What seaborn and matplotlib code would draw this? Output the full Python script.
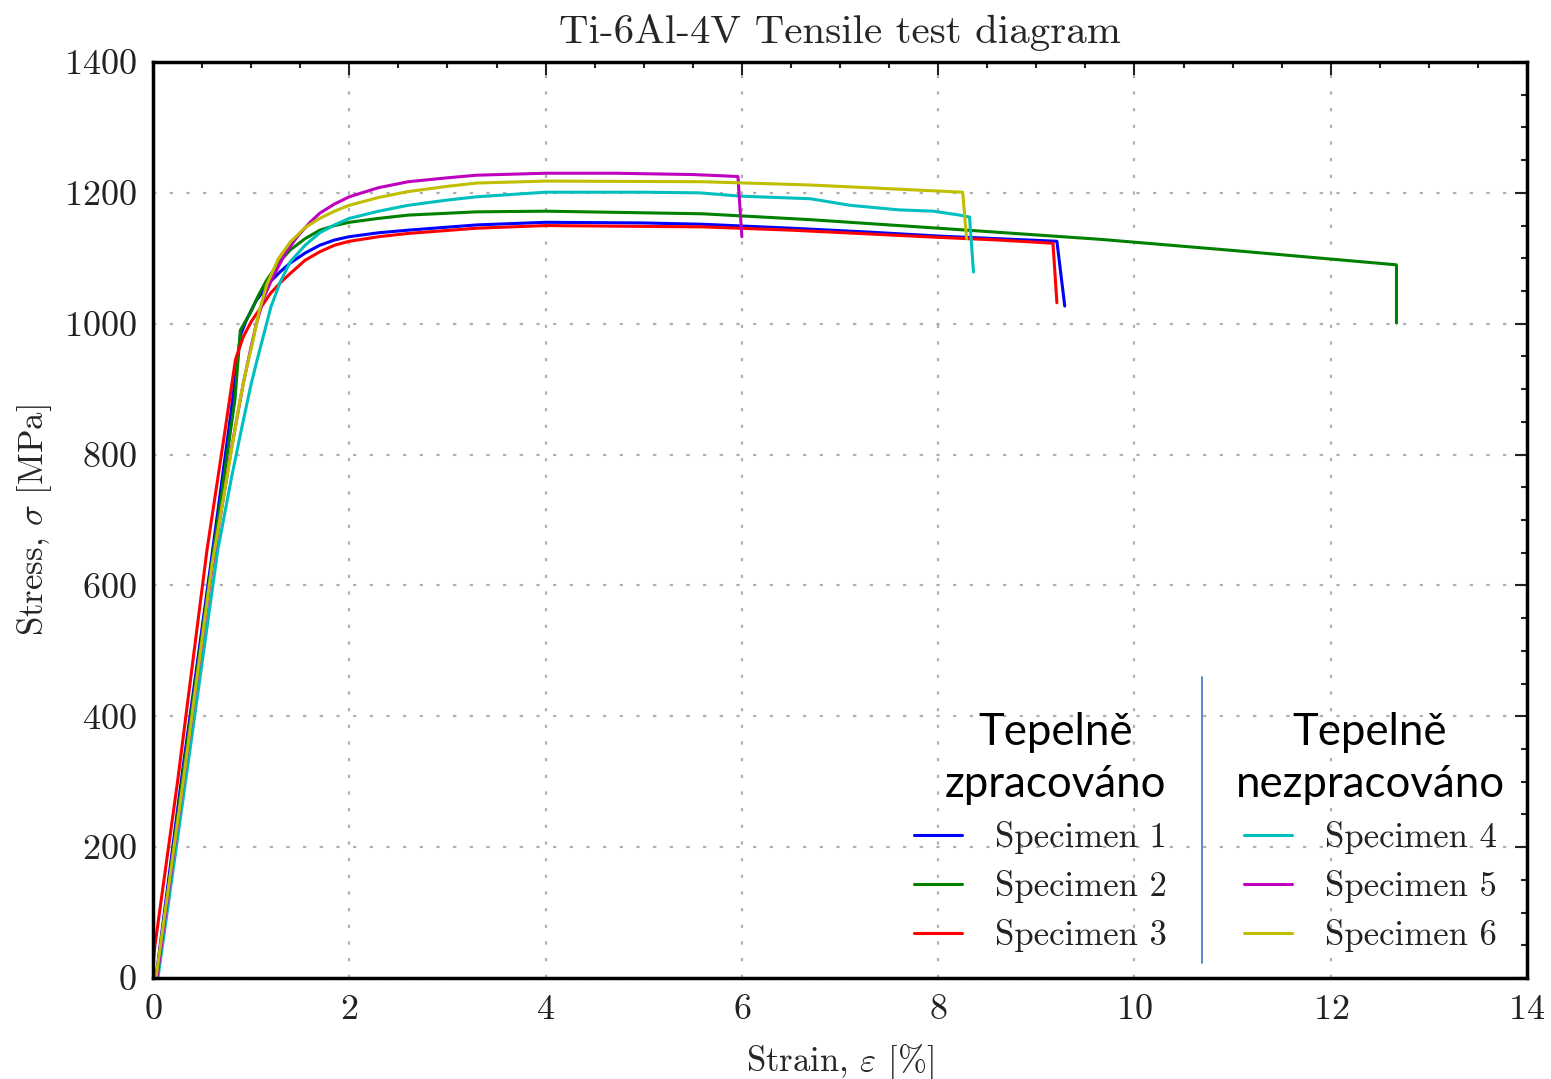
import numpy as np
import pandas as pd
import matplotlib
matplotlib.use("Agg")
import matplotlib.pyplot as plt
import seaborn as sns
from matplotlib.lines import Line2D
from matplotlib.ticker import MultipleLocator

# ---------------- data ----------------
s1_strain = [0.03, 0.30, 0.60, 0.80, 0.89, 0.95, 1.05, 1.20, 1.30, 1.40, 1.55, 1.70, 1.85, 2.00, 2.30, 2.60, 3.30, 4.00, 5.00, 5.60, 6.50, 7.30, 8.00, 8.60, 9.21, 9.29]
s1_stress = [0, 315, 645, 870, 982, 1005, 1035, 1065, 1080, 1093, 1108, 1120, 1128, 1133, 1139, 1143, 1151, 1155, 1154, 1152, 1146, 1140, 1134, 1130, 1126, 1027]

s2_strain = [0.04, 0.30, 0.60, 0.835, 0.89, 0.99, 1.08, 1.16, 1.28, 1.40, 1.55, 1.70, 1.85, 2.00, 2.30, 2.60, 3.30, 4.00, 5.60, 6.70, 8.00, 9.65, 11.00, 12.67, 12.67]
s2_stress = [0, 305, 635, 884, 990, 1016, 1045, 1067, 1093, 1113, 1130, 1143, 1150, 1155, 1161, 1166, 1171, 1172, 1168, 1159, 1146, 1129, 1112, 1090, 1001]

s3_strain = [0.00, 0.02, 0.25, 0.55, 0.73, 0.84, 0.92, 1.00, 1.10, 1.20, 1.30, 1.40, 1.55, 1.70, 1.85, 2.00, 2.30, 2.60, 3.30, 4.00, 5.60, 6.50, 8.00, 8.60, 9.17, 9.21]
s3_stress = [20, 50, 300, 654, 833, 945, 980, 1003, 1025, 1047, 1063, 1077, 1097, 1110, 1120, 1126, 1133, 1138, 1146, 1150, 1148, 1143, 1132, 1128, 1123, 1032]

s4_strain = [0.05, 0.35, 0.66, 0.80, 0.91, 1.00, 1.07, 1.14, 1.20, 1.30, 1.40, 1.55, 1.70, 1.85, 2.00, 2.30, 2.60, 3.00, 3.30, 4.00, 5.00, 5.57, 5.98, 6.70, 7.10, 7.60, 7.95, 8.22, 8.32, 8.36]
s4_stress = [0, 320, 654, 765, 845, 908, 950, 990, 1025, 1065, 1095, 1120, 1139, 1151, 1161, 1172, 1181, 1189, 1194, 1201, 1201, 1200, 1195, 1191, 1181, 1174, 1172, 1166, 1163, 1079]

s5_strain = [0.04, 0.30, 0.60, 0.80, 0.92, 1.00, 1.05, 1.13, 1.22, 1.35, 1.47, 1.60, 1.70, 1.85, 2.00, 2.30, 2.60, 3.00, 3.30, 4.00, 4.70, 5.50, 5.96, 6.00]
s5_stress = [0, 290, 625, 810, 909, 965, 998, 1040, 1071, 1108, 1133, 1155, 1169, 1183, 1194, 1208, 1217, 1223, 1227, 1230, 1230, 1228, 1225, 1133]

s6_strain = [0.03, 0.31, 0.60, 0.887, 0.95, 1.01, 1.08, 1.16, 1.28, 1.40, 1.55, 1.70, 1.85, 2.00, 2.30, 2.60, 3.00, 3.30, 4.00, 5.60, 6.70, 8.25, 8.29]
s6_stress = [0, 303, 630, 884, 930, 968, 1018, 1060, 1100, 1125, 1147, 1161, 1172, 1181, 1193, 1202, 1210, 1215, 1218, 1217, 1212, 1201, 1130]

labels = ["Specimen 1", "Specimen 2", "Specimen 3", "Specimen 4", "Specimen 5", "Specimen 6"]
group_titles = ["Tepelně\nzpracováno", "Tepelně\nnezpracováno"]
title = "Ti-6Al-4V Tensile test diagram"
xlabel = r"Strain, $\varepsilon$ [%]"
ylabel = r"Stress, $\sigma$ [MPa]"

colors = ["#0000ff", "#008000", "#ff0000", "#00bfbf", "#bf00bf", "#bfbf00"]

series = [(s1_strain, s1_stress), (s2_strain, s2_stress), (s3_strain, s3_stress),
          (s4_strain, s4_stress), (s5_strain, s5_stress), (s6_strain, s6_stress)]

frames = []
for lab, (sx, sy) in zip(labels, series):
    frames.append(pd.DataFrame({"strain": sx, "stress": sy, "specimen": lab}))
df = pd.concat(frames, ignore_index=True)

# ---------------- style ----------------
sns.set_style("white")
plt.rcParams['font.family'] = ['cmr10', 'DejaVu Serif']
plt.rcParams['mathtext.fontset'] = 'cm'
plt.rcParams['axes.formatter.use_mathtext'] = True
plt.rcParams['axes.unicode_minus'] = False

fig = plt.figure(figsize=(15.51, 10.79), dpi=100)
ax = fig.add_axes([153/1551, 1 - 978/1079, (1527-153)/1551, (978-62)/1079])

for lab, col in zip(labels, colors):
    sub = df[df["specimen"] == lab]
    sns.lineplot(data=sub, x="strain", y="stress", sort=False, estimator=None,
                 color=col, lw=2.2, ax=ax, label=lab, legend=False)

ax.set_xlim(0, 14)
ax.set_ylim(0, 1400)
ax.xaxis.set_major_locator(MultipleLocator(2))
ax.xaxis.set_minor_locator(MultipleLocator(0.5))
ax.yaxis.set_major_locator(MultipleLocator(200))
ax.yaxis.set_minor_locator(MultipleLocator(50))
ax.tick_params(which='both', direction='in', top=True, right=True, labelsize=26, pad=12, colors='#222222')
ax.tick_params(which='major', length=9, width=1.5)
ax.tick_params(which='minor', length=4.5, width=1.5)
for sp in ax.spines.values():
    sp.set_linewidth(2.5)
    sp.set_color('black')
ax.grid(True, which='major', linestyle=(0, (1.5, 6)), color='#b0b0b0', lw=1.6)
ax.set_axisbelow(True)

ax.set_title(title, fontsize=29.5, pad=14)
ax.set_xlabel(xlabel, fontsize=25, labelpad=11)
ax.set_ylabel(ylabel, fontsize=25, labelpad=7)

# ---------------- legends ----------------
handles = [Line2D([0], [0], color=c, lw=2.2) for c in colors]
common = dict(frameon=False, fontsize=25, handlelength=1.38, handletextpad=0.95,
              labelspacing=0.45, borderpad=0.2,
              title_fontproperties={'family': ['Lato', 'DejaVu Sans'], 'size': 31.5})
leg1 = ax.legend(handles[:3], labels[:3], title=group_titles[0], loc='center',
                 alignment='right',
                 bbox_to_anchor=(1040/1551, 1 - 832/1079), bbox_transform=fig.transFigure, **common)
ax.add_artist(leg1)
leg2 = ax.legend(handles[3:], labels[3:], title=group_titles[1], loc='center',
                 bbox_to_anchor=(1370/1551, 1 - 832/1079), bbox_transform=fig.transFigure, **common)
for lg in (leg1, leg2):
    t = lg.get_title()
    t.set_multialignment('center')
    t.set_linespacing(1.32)
    t.set_color('black')
    lg._legend_box.sep = 12
    for txt in lg.get_texts():
        txt.set_color('#222222')

fig.add_artist(Line2D([1202/1551, 1202/1551], [1 - 963/1079, 1 - 677/1079],
                      transform=fig.transFigure, color='#4472c4', lw=1.2))

fig.savefig("out.png", dpi=100)
